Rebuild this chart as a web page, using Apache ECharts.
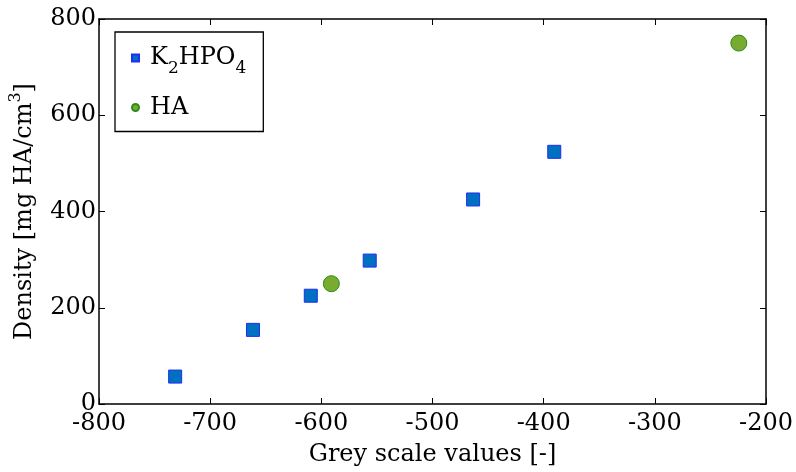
<!DOCTYPE html>
<html><head><meta charset="utf-8">
<script src="https://cdn.jsdelivr.net/npm/echarts@6/dist/echarts.min.js"></script>
<style>html,body{margin:0;padding:0;background:#fff}#c{width:796px;height:472px}</style>
</head><body><div id="c"></div>
<script>
const k2hpoX = [-731.5, -661.5, -609.5, -556.5, -463.5, -390.5];
const k2hpoY = [57, 154, 225, 298, 425, 524];
const haX = [-591, -224.5];
const haY = [250, 750];
const xTicks = [-800, -700, -600, -500, -400, -300, -200];
const yTicks = [0, 200, 400, 600, 800];
const xTitle = 'Grey scale values [-]';
const FONT = 'DejaVu Serif';
const FS = 24;
const chart = echarts.init(document.getElementById('c'));
const tick = {show: true, inside: true, length: 6, lineStyle: {color: '#000', width: 1}};
chart.setOption({
  animation: false,
  textStyle: {fontFamily: FONT},
  grid: {left: 97, right: 25, top: 19, bottom: 65, containLabel: false},
  legend: {
    orient: 'vertical', left: 115, top: 32, width: 148, height: 96,
    padding: [14, 17, 12, 16], itemGap: 18,
    borderColor: '#000', borderWidth: 1.3, backgroundColor: '#fff',
    itemWidth: 7, itemHeight: 7,
    data: [{name: 'K2HPO4', icon: 'rect'}, {name: 'HA', icon: 'circle'}],
    formatter: function (n) { return n === 'K2HPO4' ? '{n|K}{s|2}{n|HPO}{s|4}' : '{n|HA}'; },
    textStyle: {
      fontFamily: FONT, fontSize: FS, color: '#000', padding: [0, 0, 0, 6],
      rich: {
        n: {fontFamily: FONT, fontSize: FS, color: '#000'},
        s: {fontFamily: FONT, fontSize: 17, color: '#000', padding: [22, 0, 0, 0]}
      }
    }
  },
  xAxis: [{
    type: 'value', min: xTicks[0], max: xTicks[xTicks.length - 1], interval: 100,
    name: xTitle, nameLocation: 'middle', nameGap: 39,
    nameTextStyle: {fontFamily: FONT, fontSize: FS, color: '#000'},
    axisLine: {show: true, onZero: false, lineStyle: {color: '#000', width: 1.5}},
    axisTick: tick, splitLine: {show: false},
    axisLabel: {fontFamily: FONT, fontSize: FS, color: '#000', margin: 8}
  }, {
    type: 'value', position: 'top', min: xTicks[0], max: xTicks[xTicks.length - 1], interval: 100,
    axisLine: {show: true, onZero: false, lineStyle: {color: '#000', width: 1.5}},
    axisTick: tick, axisLabel: {show: false}, splitLine: {show: false}
  }],
  yAxis: [{
    type: 'value', min: yTicks[0], max: yTicks[yTicks.length - 1], interval: 200,
    name: '{n|Density [mg HA/cm}{p|3}{n|]}', nameLocation: 'middle', nameGap: 57,
    nameTextStyle: {fontFamily: FONT, fontSize: FS, color: '#000',
      rich: {n: {fontFamily: FONT, fontSize: FS, color: '#000'},
             p: {fontFamily: FONT, fontSize: 16, color: '#000', padding: [0, 0, 18, 0]}}},
    axisLine: {show: true, onZero: false, lineStyle: {color: '#000', width: 1.5}},
    axisTick: tick, splitLine: {show: false},
    axisLabel: {fontFamily: FONT, fontSize: FS, color: '#000', margin: 3}
  }, {
    type: 'value', position: 'right', min: yTicks[0], max: yTicks[yTicks.length - 1], interval: 200,
    axisLine: {show: true, onZero: false, lineStyle: {color: '#000', width: 1.5}},
    axisTick: tick, axisLabel: {show: false}, splitLine: {show: false}
  }],
  series: [{
    name: 'K2HPO4', type: 'scatter', symbol: 'rect', symbolSize: 13,
    itemStyle: {color: '#0070c0', borderColor: '#1f2df5', borderWidth: 1, opacity: 1},
    data: k2hpoX.map((x, i) => [x, k2hpoY[i]])
  }, {
    name: 'HA', type: 'scatter', symbol: 'circle', symbolSize: 16,
    itemStyle: {color: '#77ac30', borderColor: '#2a8a1a', borderWidth: 1, opacity: 1},
    data: haX.map((x, i) => [x, haY[i]])
  }]
});
</script></body></html>
